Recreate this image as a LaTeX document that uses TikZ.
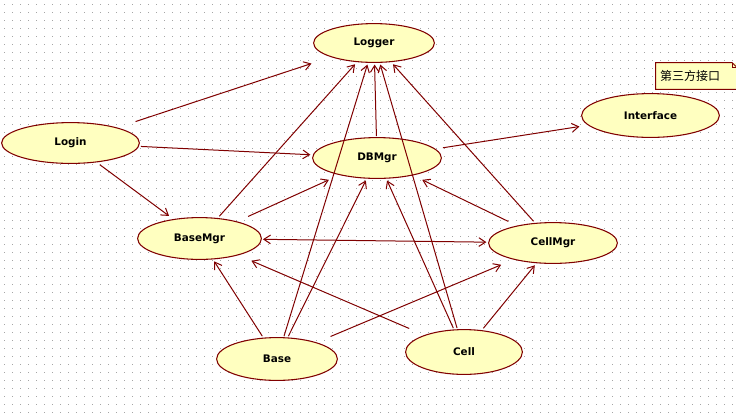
\documentclass[tikz,border=0pt]{standalone}
\usepackage{fontspec}
\setmainfont{DejaVu Sans}
\newfontfamily\cjkfont{Noto Sans CJK SC}
\usetikzlibrary{arrows.meta,calc}
\definecolor{rosered}{RGB}{128,0,0}
\definecolor{roseyellow}{RGB}{255,255,192}
\definecolor{griddot}{RGB}{165,165,165}

\begin{document}
\begin{tikzpicture}[x=0.75pt,y=-0.75pt,
  usecase/.style={rectangle,inner sep=0pt,font=\fontsize{7.8}{9}\selectfont\bfseries,
    path picture={
      \filldraw[draw=rosered,fill=roseyellow,line width=0.8pt]
        let \p1=($(path picture bounding box.north east)-(path picture bounding box.center)$)
        in (path picture bounding box.center) ellipse ({\x1-0.45pt} and {\y1-0.45pt});
    }},
  notebox/.style={fill=roseyellow,inner xsep=3pt,inner ysep=0pt,text width=54.75pt,
    minimum height=19.5pt,align=left,font=\cjkfont\fontsize{9}{10}\selectfont},
  link/.style={draw=rosered,line width=0.75pt,shorten >=1pt,shorten <=0.5pt},
  >={Straight Barb[length=5pt,width=6.5pt]}]
  \useasboundingbox (0,0) rectangle (736,412);
  \clip (0,0) rectangle (736,412);
  \fill[white] (0,0) rectangle (736,412);
  % dotted grid
  \foreach \x in {4,12,...,732}
    \foreach \y in {4,12,...,412}
      \fill[griddot] (\x,\y) rectangle +(1,1);

  % use cases
  \node[usecase,minimum width=91.5pt,minimum height=30pt] (logger) at (374,43) {Logger};
  \node[usecase,minimum width=104.25pt,minimum height=31.5pt] (login) at (70.5,143) {Login};
  \node[usecase,minimum width=97.5pt,minimum height=31.5pt] (dbmgr) at (377,158) {DBMgr};
  \node[usecase,minimum width=104.25pt,minimum height=33.75pt] (interface) at (650.5,115.5) {Interface};
  \node[usecase,minimum width=93.75pt,minimum height=32.25pt] (basemgr) at (199.5,238.5) {BaseMgr};
  \node[usecase,minimum width=97.5pt,minimum height=31.5pt] (cellmgr) at (553,243) {CellMgr};
  \node[usecase,minimum width=91.5pt,minimum height=33pt] (base) at (277,359) {Base};
  \node[usecase,minimum width=88.5pt,minimum height=34.5pt] (cell) at (464,352) {Cell};

  % note
  \node[notebox] (note) at (696.5,76) {第三方接口};
  \draw[rosered,line width=0.75pt] (note.north west) -- ([xshift=-3.75pt]note.north east)
    -- ([yshift=-3.75pt]note.north east) -- (note.south east) -- (note.south west) -- cycle;
  \draw[rosered,line width=0.75pt] ([xshift=-3.75pt]note.north east)
    -- ([xshift=-3.75pt,yshift=-3.75pt]note.north east) -- ([yshift=-3.75pt]note.north east);

  % dependencies
  \draw[link,->] (login) -- (logger);
  \draw[link,->] (login) -- (dbmgr);
  \draw[link,->] (login) -- (basemgr);
  \draw[link,->] (dbmgr) -- (interface);
  \draw[link,->] (dbmgr) -- (logger);
  \draw[link,->] (basemgr) -- (logger);
  \draw[link,->] (basemgr) -- (dbmgr);
  \draw[link,<->] (basemgr) -- (cellmgr);
  \draw[link,->] (cellmgr) -- (dbmgr);
  \draw[link,->] (cellmgr) -- (logger);
  \draw[link,->] (base) -- (logger);
  \draw[link,->] (base) -- (dbmgr);
  \draw[link,->] (base) -- (basemgr);
  \draw[link,->] (base) -- (cellmgr);
  \draw[link,->] (cell) -- (basemgr);
  \draw[link,->] (cell) -- (dbmgr);
  \draw[link,->] (cell) -- (logger);
  \draw[link,->] (cell) -- (cellmgr);
\end{tikzpicture}
\end{document}
